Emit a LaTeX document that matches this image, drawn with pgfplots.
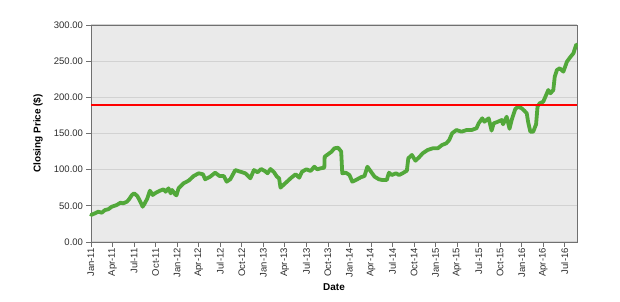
\documentclass[border=0pt]{standalone}
\usepackage{pgfplots}
\pgfplotsset{compat=1.18}
\usepackage{fontspec}
\setmainfont{Liberation Sans}
\definecolor{lgreen}{RGB}{82,168,58}
\definecolor{bggray}{RGB}{234,234,234}
\definecolor{gridgray}{RGB}{210,210,210}
\definecolor{boxgray}{RGB}{112,112,112}
\definecolor{txtgray}{RGB}{45,45,45}
\begin{document}
\begin{tikzpicture}
\useasboundingbox (-91bp,-60bp) rectangle (529bp,242bp);
\begin{axis}[
  at={(0,0)}, anchor=south west,
  scale only axis, width=486bp, height=217bp,
  xmin=0, xmax=67.7, ymin=0, ymax=300,
  axis background/.style={fill=bggray},
  axis line style={draw=boxgray, line width=0.9bp},
  xtick={0,3,...,66},
  xticklabels={Jan-11,Apr-11,Jul-11,Oct-11,Jan-12,Apr-12,Jul-12,Oct-12,Jan-13,Apr-13,Jul-13,Oct-13,Jan-14,Apr-14,Jul-14,Oct-14,Jan-15,Apr-15,Jul-15,Oct-15,Jan-16,Apr-16,Jul-16},
  ytick={0,50,...,300},
  yticklabel style={/pgf/number format/.cd, fixed, fixed zerofill, precision=2, assume math mode=true},
  ymajorgrids, grid style={draw=gridgray, line width=1.2bp},
  tick align=outside, xtick pos=left, ytick pos=left,
  major tick length=4.5bp,
  tick style={draw=boxgray, line width=0.8bp},
  ticklabel style={font=\fontsize{9.5bp}{11bp}\selectfont, text=txtgray},
  xticklabel style={rotate=90, anchor=east, inner sep=1.5bp},
  xlabel={\textbf{Date}}, ylabel={\textbf{Closing Price (\$)}},
  label style={font=\fontsize{9.5bp}{11bp}\selectfont},
  every axis x label/.style={at={(axis description cs:0.5,0)}, yshift=-45bp, anchor=center},
  every axis y label/.style={at={(axis description cs:0,0.5)}, xshift=-53bp, rotate=90, anchor=center},
  clip=false,
]
\addplot[lgreen, line width=3.8bp, line join=round, line cap=round] coordinates {
(0,37.3) (0.56,39.7) (1.0,41.9) (1.5,40.5) (1.95,44.2) (2.4,45.2) (2.9,48.8) (3.6,51.2)
(4.1,54.3) (4.5,53.5) (5.0,55.7) (5.3,59.0) (5.7,65.0) (6.0,67.3) (6.45,63.6) (6.8,57.1)
(7.2,48.8) (7.5,53.5) (7.85,60.4) (8.2,70.9) (8.6,65.0) (8.9,67.3) (9.6,70.9) (10.1,72.8)
(10.4,69.5) (10.8,74.2) (11.1,67.3) (11.3,71.9) (11.7,66.0) (11.9,64.5) (12.2,74.2) (12.9,81.2)
(13.6,84.8) (14.3,91.2) (15.0,95.0) (15.6,93.6) (15.9,86.7) (16.6,90.3) (17.3,95.8) (17.9,91.2)
(18.5,91.2) (18.9,83.4) (19.4,86.7) (20.1,99.5) (20.8,97.2) (21.5,95.0) (22.2,88.1) (22.7,99.5)
(23.2,96.4) (23.7,100.9) (24.2,98.2) (24.6,95.0) (25.0,100.9) (25.5,96.4) (25.9,90.3) (26.2,88.1)
(26.4,75.1) (26.9,79.8) (27.3,83.4) (27.9,88.9) (28.5,93.6) (29.0,88.9) (29.4,97.2) (30.0,100.5)
(30.6,98.2) (31.1,104.1) (31.5,100.5) (32.0,101.9) (32.5,102.7) (32.55,117.9) (33.0,121.2) (33.5,124.8)
(33.9,129.5) (34.4,130.4) (34.7,127.0) (34.85,125.0) (35.0,95.0) (35.5,95.8) (36.0,92.6) (36.4,83.4)
(36.9,85.7) (37.6,89.5) (38.1,91.2) (38.5,104.1) (39.0,97.2) (39.5,90.3) (40.1,86.7) (40.6,85.7)
(41.2,85.7) (41.5,95.8) (41.9,92.6) (42.5,95.0) (42.9,92.6) (43.4,95.0) (44.0,98.6) (44.2,115.7)
(44.7,120.3) (45.2,112.4) (45.7,117.1) (46.2,122.6) (46.9,127.2) (47.6,129.5) (48.3,129.5) (48.9,134.1)
(49.5,136.5) (49.9,141.0) (50.3,150.3) (50.9,154.8) (51.6,152.5) (52.3,154.8) (53.0,154.8) (53.7,157.2)
(54.0,164.1) (54.5,171.0) (54.8,166.3) (55.4,171.0) (55.8,154.0) (56.1,164.1) (56.7,166.3) (57.2,168.7)
(57.4,162.7) (57.9,173.2) (58.3,156.5) (58.6,168.7) (59.1,183.9) (59.5,187.1) (60.0,184.8) (60.4,181.1)
(60.7,177.9) (60.9,165.5) (61.2,152.5) (61.6,152.5) (62.0,162.7) (62.2,187.1) (62.5,191.8) (63.0,194.0)
(63.4,203.2) (63.7,210.1) (64.0,205.6) (64.4,210.1) (64.6,228.5) (64.9,237.8) (65.3,240.2) (65.8,235.5)
(66.3,249.3) (66.7,254.8) (67.2,260.9) (67.6,273.0)
};
\addplot[red, line width=2bp] coordinates {(0,190) (67.7,190)};
\end{axis}
\end{tikzpicture}
\end{document}
